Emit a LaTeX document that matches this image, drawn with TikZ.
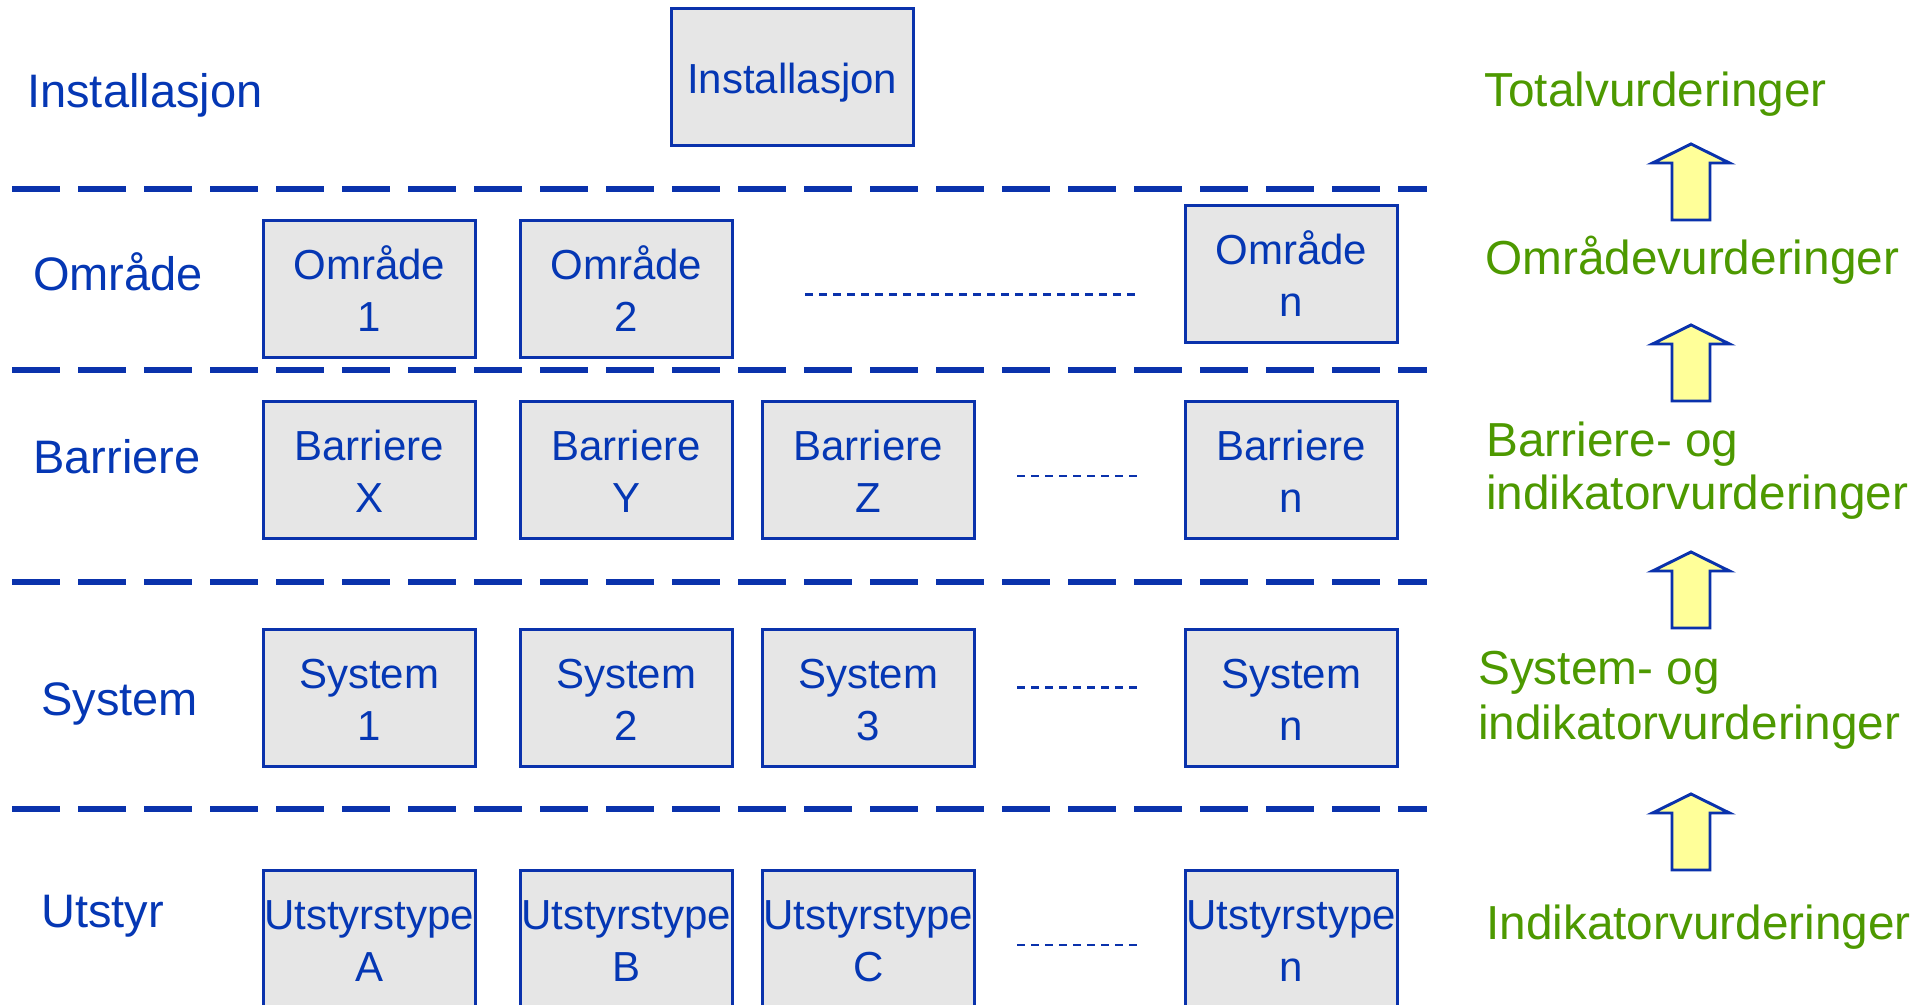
\documentclass[tikz,border=0pt]{standalone}
\usepackage{fontspec}
\setmainfont{Liberation Sans}
\definecolor{tblue}{RGB}{5,55,180}
\definecolor{lblue}{RGB}{10,50,172}
\definecolor{tgreen}{RGB}{77,153,0}
\definecolor{bgray}{RGB}{230,230,230}
\definecolor{ayellow}{RGB}{255,255,153}
\begin{document}
\begin{tikzpicture}[x=0.75pt,y=-0.75pt,
 box/.style={draw=lblue,fill=bgray,line width=1.9pt,anchor=north west,inner sep=0pt,
   minimum width=159pt,minimum height=102.75pt,align=center,text=tblue,
   font=\fontsize{31.5}{39}\selectfont,text height=83.25pt,text depth=19.5pt},
 lbl/.style={anchor=base west,inner sep=0pt,text=tblue,font=\fontsize{35.25}{42}\selectfont},
 rlbl/.style={anchor=base west,inner sep=0pt,text=tgreen,font=\fontsize{35.8}{42}\selectfont},
 sepline/.style={draw=lblue,line width=4.5pt,dash pattern=on 36pt off 13.5pt},
 dotline/.style={draw=lblue,line width=1.6pt,dash pattern=on 6pt off 4.5pt},
 arrsty/.style={draw=lblue,fill=ayellow,line width=2.2pt,line join=miter},
 uparrow/.pic={\path[arrsty] (0,0) -- (38.5,19) -- (19,19) -- (19,76) -- (-19,76) -- (-19,19) -- (-38.5,19) -- cycle;}
]
\clip (0,0) rectangle (1932,1005);
\fill[white] (0,0) rectangle (1932,1005);

% separator lines
\foreach \yy/\nm in {189/s1,370/s2,581.5/s3,809/s4}{
  \coordinate (\nm a) at (12,\yy);
  \coordinate (\nm b) at (1427,\yy);
  \draw[sepline] (\nm a) -- (\nm b);
}

% left labels
\node[lbl] (lInst) at (27,108) {Installasjon};
\node[lbl] (lOmr) at (33,291) {Område};
\node[lbl] (lBar) at (33,474) {Barriere};
\node[lbl] (lSys) at (41,715) {System};
\node[lbl] (lUts) at (41,927) {Utstyr};

% boxes
\node[box,minimum width=181.5pt,text height=63.75pt,text depth=39pt] (inst) at (670,7) {Installasjon};

\node[box] (o1) at (262,219) {Område\\1};
\node[box] (o2) at (519,219) {Område\\2};
\node[box] (on) at (1184,204) {Område\\n};

\node[box] (bx) at (262,400) {Barriere\\X};
\node[box] (by) at (519,400) {Barriere\\Y};
\node[box] (bz) at (761,400) {Barriere\\Z};
\node[box] (bn) at (1184,400) {Barriere\\n};

\node[box] (sy1) at (262,628) {System\\1};
\node[box] (sy2) at (519,628) {System\\2};
\node[box] (sy3) at (761,628) {System\\3};
\node[box] (syn) at (1184,628) {System\\n};

\node[box] (ua) at (262,869) {Utstyrstype\\A};
\node[box] (ub) at (519,869) {Utstyrstype\\B};
\node[box] (uc) at (761,869) {Utstyrstype\\C};
\node[box] (un) at (1184,869) {Utstyrstype\\n};

% dotted continuation lines
\coordinate (d1a) at (805,294.5); \coordinate (d1b) at (1136,294.5);
\coordinate (d2a) at (1017,476); \coordinate (d2b) at (1137,476);
\coordinate (d3a) at (1017,687.5); \coordinate (d3b) at (1137,687.5);
\coordinate (d4a) at (1017,945); \coordinate (d4b) at (1137,945);
\draw[dotline] (d1a) -- (d1b);
\draw[dotline] (d2a) -- (d2b);
\draw[dotline] (d3a) -- (d3b);
\draw[dotline] (d4a) -- (d4b);

% right labels
\node[rlbl] (rTot) at (1484,107) {Totalvurderinger};
\node[rlbl] (rOmr) at (1485,275) {Områdevurderinger};
\node[rlbl] (rBar1) at (1486,457) {Barriere- og};
\node[rlbl] (rBar2) at (1486,509) {indikatorvurderinger};
\node[rlbl] (rSys1) at (1478,684) {System- og};
\node[rlbl] (rSys2) at (1478,739) {indikatorvurderinger};
\node[rlbl] (rInd) at (1486,939) {Indikatorvurderinger};

% arrows
\pic at (1691,144) {uparrow};
\pic at (1691,325) {uparrow};
\pic at (1691,552) {uparrow};
\pic at (1691,794) {uparrow};
\end{tikzpicture}
\end{document}
